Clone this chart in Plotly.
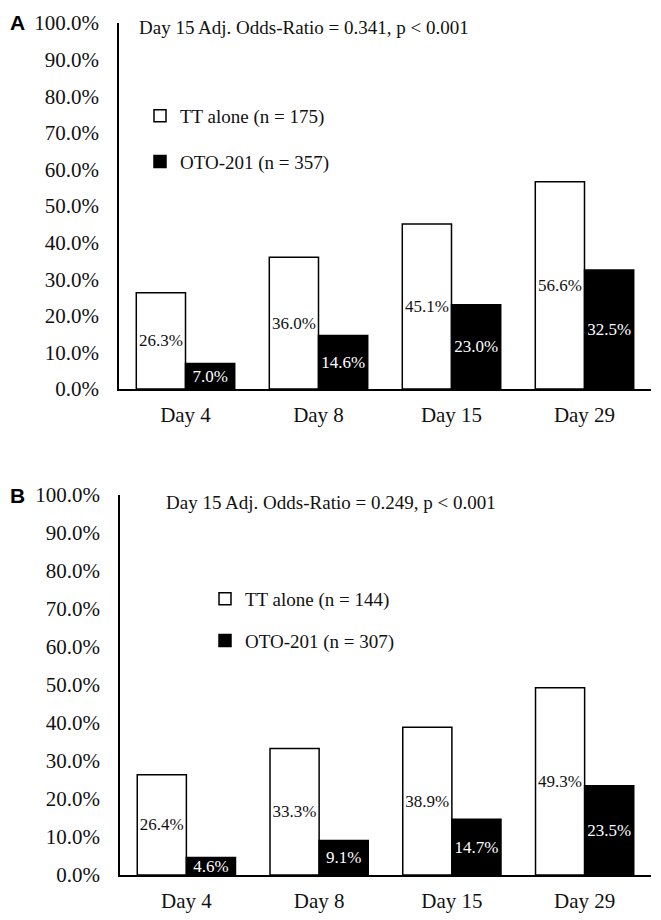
import plotly.graph_objects as go

categories = ["Day 4", "Day 8", "Day 15", "Day 29"]
a_tt = [26.3, 36.0, 45.1, 56.6]
a_oto = [7.0, 14.6, 23.0, 32.5]
b_tt = [26.4, 33.3, 38.9, 49.3]
b_oto = [4.6, 9.1, 14.7, 23.5]
tick_vals = [0, 10, 20, 30, 40, 50, 60, 70, 80, 90, 100]
tick_text = [f"{v:.1f}%" for v in tick_vals]

a_title = "Day 15 Adj. Odds-Ratio = 0.341, p < 0.001"
b_title = "Day 15 Adj. Odds-Ratio = 0.249, p < 0.001"
a_names = ["TT alone (n = 175)", "OTO-201 (n = 357)"]
b_names = ["TT alone (n = 144)", "OTO-201 (n = 307)"]

SERIF = "Liberation Serif, Times New Roman, serif"
SANS = "Liberation Sans, Arial, sans-serif"
W, H = 661, 920
OFF = 8  # page body margin offset

fig = go.Figure()

def add_panel(tt, oto, names, xa, ya, legend, grp):
    fig.add_trace(go.Bar(
        x=categories, y=tt, name=names[0], xaxis=xa, yaxis=ya,
        marker=dict(color="white", line=dict(color="black", width=1.5)),
        text=[f"{v:.1f}%" for v in tt], textposition="inside",
        insidetextanchor="middle", textangle=0, constraintext="none",
        textfont=dict(family=SERIF, size=17, color="#111"),
        legend=legend, legendgroup=grp + "tt", hoverinfo="skip"))
    fig.add_trace(go.Bar(
        x=categories, y=oto, name=names[1], xaxis=xa, yaxis=ya,
        marker=dict(color="black", line=dict(color="black", width=1.5)),
        text=[f"{v:.1f}%" for v in oto], textposition="inside",
        insidetextanchor="middle", textangle=0, constraintext="none",
        textfont=dict(family=SERIF, size=17, color="white"),
        legend=legend, legendgroup=grp + "oto", hoverinfo="skip"))

add_panel(a_tt, a_oto, a_names, "x", "y", "legend", "a")
add_panel(b_tt, b_oto, b_names, "x2", "y2", "legend2", "b")

def px_y(p):
    return 1 - (p - OFF) / H

def px_x(p):
    return (p - OFF) / W

xcommon = dict(showline=True, linecolor="black", linewidth=1.5, ticks="",
               showgrid=False, zeroline=False,
               tickfont=dict(family=SERIF, size=21, color="#111"),
               ticklabelstandoff=6)
ycommon = dict(showline=True, linecolor="black", linewidth=1.5, ticks="",
               showgrid=False, zeroline=False, range=[0, 100],
               tickvals=tick_vals, ticktext=tick_text,
               tickfont=dict(family=SERIF, size=21, color="#111"),
               ticklabelstandoff=14)

legcommon = dict(xanchor="left", yanchor="top", bgcolor="rgba(0,0,0,0)",
                 font=dict(family=SERIF, size=19, color="#111"),
                 itemclick=False, itemdoubleclick=False)

fig.update_layout(
    width=W, height=H,
    margin=dict(l=0, r=0, t=0, b=0, autoexpand=False),
    paper_bgcolor="white", plot_bgcolor="white",
    barmode="group", bargap=0.26, bargroupgap=0,
    uniformtext=dict(minsize=17, mode="show"),
    xaxis=dict(domain=[px_x(119), px_x(651)], anchor="y", **xcommon),
    yaxis=dict(domain=[px_y(389), px_y(23)], anchor="x", **ycommon),
    xaxis2=dict(domain=[px_x(120), px_x(651)], anchor="y2", **xcommon),
    yaxis2=dict(domain=[px_y(875), px_y(495)], anchor="x2", **ycommon),
    legend=dict(x=px_x(140), y=px_y(97), tracegroupgap=18, **legcommon),
    legend2=dict(x=px_x(205), y=px_y(580), tracegroupgap=14, **legcommon),
    annotations=[
        dict(text="<b>A</b>", x=0, y=px_y(22), xref="paper", yref="paper",
             showarrow=False, xanchor="left", yanchor="middle",
             font=dict(family=SANS, size=21, color="black")),
        dict(text="<b>B</b>", x=0, y=px_y(495), xref="paper", yref="paper",
             showarrow=False, xanchor="left", yanchor="middle",
             font=dict(family=SANS, size=21, color="black")),
        dict(text=a_title, x=px_x(137), y=px_y(27), xref="paper", yref="paper",
             showarrow=False, xanchor="left", yanchor="middle",
             font=dict(family=SERIF, size=19, color="#111")),
        dict(text=b_title, x=px_x(164), y=px_y(503), xref="paper", yref="paper",
             showarrow=False, xanchor="left", yanchor="middle",
             font=dict(family=SERIF, size=19, color="#111")),
    ],
)

fig.write_html("out.html")
